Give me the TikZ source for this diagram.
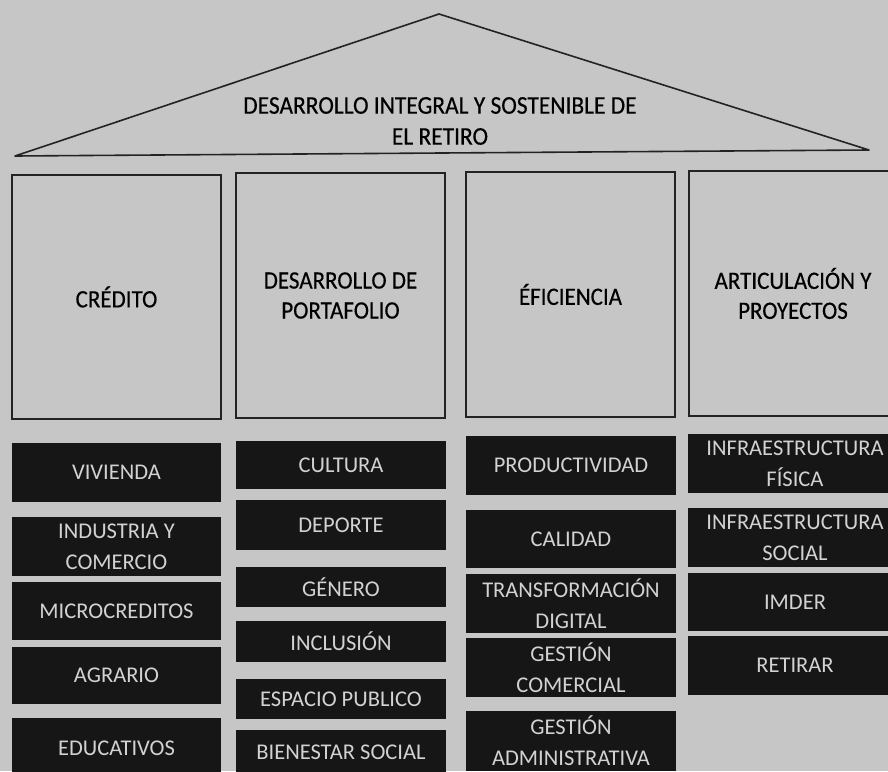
\documentclass[tikz,border=0pt]{standalone}
\usepackage{fontspec}
\setmainfont{Carlito}
\newfontfamily\headfont[FakeStretch=0.92, FakeBold=0.4]{Carlito}
\definecolor{bg}{RGB}{198,198,198}
\definecolor{ink}{RGB}{35,35,35}
\definecolor{boxc}{RGB}{22,22,22}
\definecolor{itemtxt}{RGB}{210,210,210}
\begin{document}
\begin{tikzpicture}[x=1pt,y=-1pt,
  pillar/.style={draw=ink, line width=1.6pt, minimum width=209pt, inner sep=0pt,
    font=\headfont\fontsize{25}{30}\selectfont, align=center, text=black},
  item/.style={fill=boxc, draw=none, text=itemtxt, inner sep=0pt,
    font=\fontsize{22.5}{31}\selectfont, align=center, minimum width=210pt},
  roofline/.style={draw=ink, line width=1.6pt, line join=round}]
\useasboundingbox (0,0) rectangle (888,771);
\clip (0,0) rectangle (888,771);
\fill[bg] (0,0) rectangle (888,771);
% roof
\coordinate (rl) at (15,156);
\coordinate (rt) at (439,14);
\coordinate (rr) at (869,150);
\draw[roofline] (rl) -- (rt) -- (rr) -- cycle;
\node[font=\headfont\fontsize{25.5}{31}\selectfont, align=center, text=black] (roof) at (440,121)
  {DESARROLLO INTEGRAL Y SOSTENIBLE DE\\EL RETIRO};
% pillars
\node[pillar, minimum height=244pt] (p1) at (116.5,297) {CRÉDITO};
\node[pillar, minimum height=245pt] (p2) at (340.5,295.5) {DESARROLLO DE\\PORTAFOLIO};
\node[pillar, minimum height=245pt] (p3) at (570.5,294.5) {ÉFICIENCIA};
\node[pillar, minimum height=245pt, minimum width=208pt] (p4) at (793,293.5) {ARTICULACIÓN Y\\PROYECTOS};
% column 1
\node[item, minimum width=209pt, minimum height=59pt] (c1a) at (116.5,472.5) {VIVIENDA};
\node[item, minimum width=209pt, minimum height=59pt] (c1b) at (116.5,546.5) {INDUSTRIA Y\\COMERCIO};
\node[item, minimum width=209pt, minimum height=58pt] (c1c) at (116.5,611) {MICROCREDITOS};
\node[item, minimum width=209pt, minimum height=57pt] (c1d) at (116.5,675.5) {AGRARIO};
\node[item, minimum width=209pt, minimum height=60pt] (c1e) at (116.5,748) {EDUCATIVOS};
% column 2
\node[item, minimum height=48pt] (c2a) at (341,465) {CULTURA};
\node[item, minimum height=50pt] (c2b) at (341,525) {DEPORTE};
\node[item, minimum height=40pt] (c2c) at (341,587) {GÉNERO};
\node[item, minimum height=41pt] (c2d) at (341,641.5) {INCLUSIÓN};
\node[item, minimum height=40pt] (c2e) at (341,699) {ESPACIO PUBLICO};
\node[item, minimum height=44pt] (c2f) at (341,752) {BIENESTAR SOCIAL};
% column 3
\node[item, minimum height=59pt] (c3a) at (571,465.5) {PRODUCTIVIDAD};
\node[item, minimum height=58pt] (c3b) at (571,539) {CALIDAD};
\node[item, minimum height=59pt] (c3c) at (571,603.5) {TRANSFORMACIÓN\\DIGITAL};
\node[item, minimum height=59pt] (c3d) at (571,667.5) {GESTIÓN\\COMERCIAL};
\node[item, minimum height=60pt] (c3e) at (571,741) {GESTIÓN\\ADMINISTRATIVA};
% column 4
\node[item, minimum width=214pt, minimum height=59pt] (c4a) at (795,463.5) {INFRAESTRUCTURA\\FÍSICA};
\node[item, minimum width=214pt, minimum height=59pt] (c4b) at (795,537.5) {INFRAESTRUCTURA\\SOCIAL};
\node[item, minimum width=214pt, minimum height=58pt] (c4c) at (795,602) {IMDER};
\node[item, minimum width=214pt, minimum height=59pt] (c4d) at (795,665.5) {RETIRAR};
\end{tikzpicture}
\end{document}
